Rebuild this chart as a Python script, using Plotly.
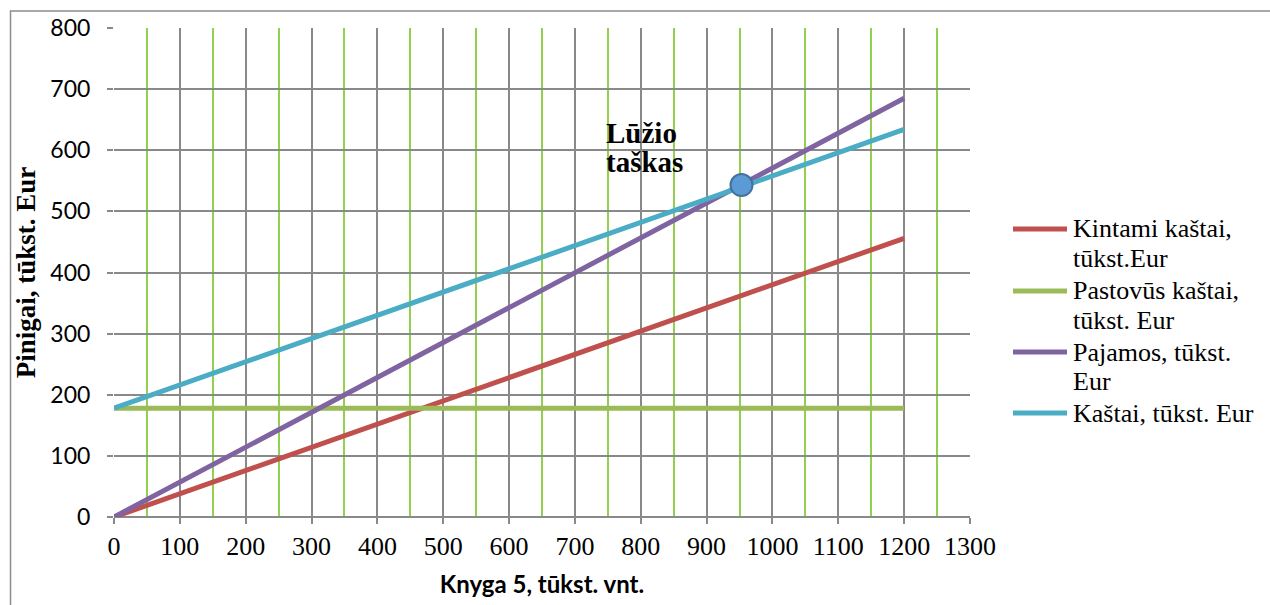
import plotly.graph_objects as go

# Data
x_vnt = [0, 1200]
kintami = [0, 456]
pastovus = [178, 178]
pajamos = [0, 685]
kastai = [178, 634]
luzio_x = [953]
luzio_y = [543]

names = ["Kintami kaštai,<br>tūkst.Eur", "Pastovūs kaštai,<br>tūkst. Eur",
         "Pajamos, tūkst.<br>Eur", "Kaštai, tūkst. Eur"]
colors = ["#C0504D", "#9BBB59", "#8064A2", "#4BACC6"]
series = [kintami, pastovus, pajamos, kastai]

fig = go.Figure()
for nm, col, ys in zip(names, colors, series):
    fig.add_trace(go.Scatter(x=x_vnt, y=ys, mode="lines", name=nm.replace("<br>", " "),
                             line=dict(color=col, width=5)))
fig.add_trace(go.Scatter(x=luzio_x, y=luzio_y, mode="markers", showlegend=False,
                         marker=dict(size=22, color="#5B9BD5",
                                     line=dict(color="#41719C", width=2))))

afont = dict(family="Liberation Serif", size=29, color="black")
fig.add_annotation(x=744, y=628, xref="x", yref="y", text="<b>Lūžio</b>",
                   showarrow=False, xanchor="left", yanchor="middle", font=afont)
fig.add_annotation(x=744, y=580, xref="x", yref="y", text="<b>taškas</b>",
                   showarrow=False, xanchor="left", yanchor="middle", font=afont)

# legend drawn as lines + text (to match tight line spacing of the original)
L, T, B = 114, 28, 517
H, W = B - T, 970 - L
def px(v):
    return (v - L) / W
def py(v):
    return (B - v) / H
lfont = dict(family="Liberation Serif", size=26, color="black")
item_y = [229, 291, 352, 413]
for nm, col, yy in zip(names, colors, item_y):
    fig.add_shape(type="line", xref="paper", yref="paper", x0=px(1013), x1=px(1067),
                  y0=py(yy), y1=py(yy), line=dict(color=col, width=5))
    for k, part in enumerate(nm.split("<br>")):
        fig.add_annotation(x=px(1071), y=py(yy + 29 * k), xref="paper", yref="paper",
                           text=part, showarrow=False, xanchor="left", yanchor="middle",
                           font=lfont)

grid = "#898989"
fig.update_xaxes(range=[0, 1300], dtick=100, tick0=0, showgrid=True, gridcolor=grid,
                 gridwidth=1.5, ticks="outside", ticklen=6, tickcolor=grid, tickwidth=1.5,
                 zeroline=False, showline=False,
                 minor=dict(dtick=50, tick0=0, showgrid=True, gridcolor="#92D050",
                            gridwidth=1.5, ticks=""),
                 tickfont=dict(family="Liberation Serif", size=26, color="black"),
                 title=dict(text="<b>Knyga 5, tūkst. vnt.</b>",
                            font=dict(family="Lato", size=24, color="black"), standoff=15))
fig.update_yaxes(range=[0, 800], dtick=100, showgrid=True, gridcolor=grid, gridwidth=1.5,
                 ticks="outside", ticklen=6, tickcolor=grid, tickwidth=1.5,
                 zeroline=True, zerolinecolor=grid, zerolinewidth=1.5,
                 tickfont=dict(family="Lato", size=23, color="black"),
                 ticklabelstandoff=12,
                 title=dict(text="<b>Pinigai, tūkst. Eur</b>",
                            font=dict(family="Liberation Serif", size=27, color="black"),
                            standoff=6))

# outer chart border
fig.add_shape(type="rect", xref="paper", yref="paper", x0=-0.1209, x1=1.36,
              y0=-0.25, y1=1.0348, line=dict(color="#8C8C8C", width=1.5), layer="below")

fig.update_layout(
    width=1270, height=605, plot_bgcolor="white", paper_bgcolor="white",
    margin=dict(l=L, r=1270 - 970, t=T, b=605 - B),
    showlegend=False,
)

fig.write_html("out.html")
